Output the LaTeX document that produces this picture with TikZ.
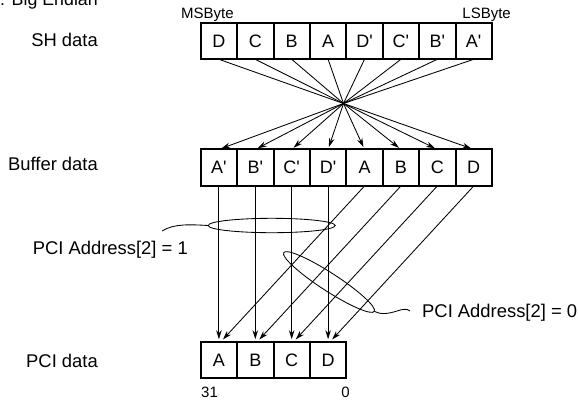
\documentclass[tikz,border=0pt]{standalone}
\usepackage{fontspec}
\setmainfont{Liberation Sans}[Ligatures=TeXOff]
\usetikzlibrary{arrows.meta}
\begin{document}
\begin{tikzpicture}[x=1pt,y=-1pt,
  cell/.style={draw, line width=2pt, minimum width=36.4pt, minimum height=36.6pt,
    inner sep=0pt, outer sep=0pt, font=\fontsize{18}{18}\selectfont},
  lbl/.style={inner sep=0pt, font=\fontsize{18.4}{18.4}\selectfont},
  small/.style={inner sep=0pt, font=\fontsize{15}{15}\selectfont},
  wire/.style={line width=0.85pt},
  arr/.style={wire, -{Stealth[length=9pt,width=5.5pt]}, shorten >=2.5pt},
]
\useasboundingbox (0,0) rectangle (578,400);
\clip (0,0) rectangle (578,400);

% top caption (clipped, as in the original)
\node[lbl, anchor=base east, font=\fontsize{17.8}{17.8}\selectfont] (cap) at (98,5) {: Big Endian};

% row labels
\node[lbl, anchor=base east] (shl) at (98,46) {SH data};
\node[lbl, anchor=base east] (bfl) at (98,170) {Buffer data};
\node[lbl, anchor=base east] (pcl) at (98,367) {PCI data};

% byte order labels
\node[small, anchor=base west] (msb) at (181,18) {MSByte};
\node[small, anchor=base east] (lsb) at (511,18) {LSByte};

% SH data boxes
\foreach \l [count=\i] in {D,C,B,A,D',C',B',A'}
  \node[cell] (s\i) at ({200.7+36.4*(\i-0.5)},41) {\l};

% Buffer data boxes
\foreach \l [count=\i] in {A',B',C',D',A,B,C,D}
  \node[cell] (b\i) at ({200.7+36.4*(\i-0.5)},167.7) {\l};

% PCI data boxes
\foreach \l [count=\i] in {A,B,C,D}
  \node[cell] (p\i) at ({200.7+36.4*(\i-0.5)},360) {\l};

\node[small, anchor=base west] (b31) at (201,397) {31};
\node[small, anchor=base east] (b0) at (350,397) {0};

% crossing lines
\coordinate (hub) at (343.5,103.5);
\foreach \i in {1,...,8} \draw[wire] (s\i.south) -- (hub);
\foreach \i in {1,...,8} \draw[arr] (hub) -- (b\i.north);

% buffer to PCI
\foreach \i in {1,...,4} \draw[arr] (b\i.south) -- (p\i.north);
\foreach \i in {1,...,4} {
  \pgfmathtruncatemacro\j{\i+4}
  \draw[arr, shorten >=3pt] (b\j.south) -- ([xshift=2pt]p\i.north);
}

% PCI Address[2] = 1 ellipse
\coordinate (e1) at (271.7,225.5);
\draw[wire] (e1) ellipse [x radius=63.5, y radius=7.2];
\coordinate (e1w) at (208.2,225.5);
\coordinate (l1) at (162,231);
\draw[wire] (e1w) .. controls (190,224.5) and (174,223.5) .. (l1);
\node[lbl, anchor=base east] (t1) at (188,254) {PCI Address[2] = 1};

% PCI Address[2] = 0 ellipse
\coordinate (e2) at (329,282);
\draw[wire, rotate around={-33:(e2)}] (e2) ellipse [x radius=54, y radius=9];
\coordinate (e2e) at (374.3,311.4);
\coordinate (l2) at (410,311);
\draw[wire] (e2e) .. controls (381,315) and (389,313.5) .. (397,311)
  .. controls (403,309) and (407,308.5) .. (l2);
\node[lbl, anchor=base west] (t2) at (422,317) {PCI Address[2] = 0};
\end{tikzpicture}
\end{document}
